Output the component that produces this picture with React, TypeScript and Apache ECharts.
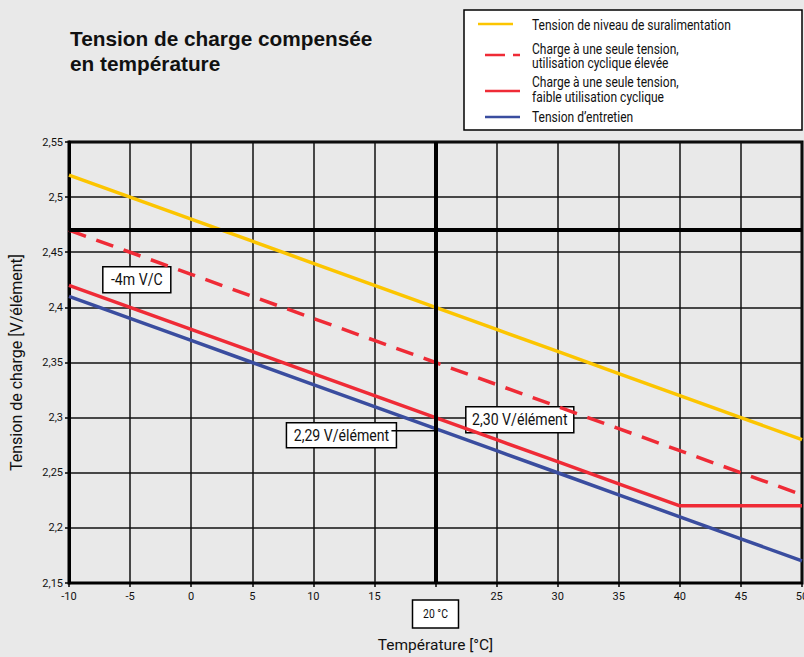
import React, { useEffect, useRef } from "react";
import * as echarts from "echarts";

const temperatures = [-10, -5, 0, 5, 10, 15, 20, 25, 30, 35, 40, 45, 50];
const boostVoltage = [2.52, 2.5, 2.48, 2.46, 2.44, 2.42, 2.4, 2.38, 2.36, 2.34, 2.32, 2.3, 2.28];
const highCycleVoltage = [2.47, 2.45, 2.43, 2.41, 2.39, 2.37, 2.35, 2.33, 2.31, 2.29, 2.27, 2.25, 2.23];
const lowCycleVoltage = [2.42, 2.4, 2.38, 2.36, 2.34, 2.32, 2.3, 2.28, 2.26, 2.24, 2.22, 2.22, 2.22];
const floatVoltage = [2.41, 2.39, 2.37, 2.35, 2.33, 2.31, 2.29, 2.27, 2.25, 2.23, 2.21, 2.19, 2.17];

const seriesNames = [
  "Tension de niveau de suralimentation",
  "Charge à une seule tension,\nutilisation cyclique élevée",
  "Charge à une seule tension,\nfaible utilisation cyclique",
  "Tension d’entretien",
];
const titleText = "Tension de charge compensée\nen température";
const yAxisName = "Tension de charge [V/élément]";
const xAxisName = "Température [°C]";
const referenceTemp = 20;
const referenceVoltage = 2.472;
const annotationTexts = ["-4m V/C", "2,29 V/élément", "2,30 V/élément", "20 °C"];

const NARROW = "Roboto, 'Liberation Sans', sans-serif";
const YELLOW = "#fcc500";
const RED = "#ef2b36";
const BLUE = "#3a4d9f";
const SX = 0.83;

export default function App() {
  const ref = useRef<HTMLDivElement>(null);
  useEffect(() => {
    if (!ref.current) return;
    const chart = echarts.init(ref.current, undefined, { renderer: "svg" });
    const mk = (vals: number[]) => temperatures.map((t, i) => [t, vals[i]]);
    chart.setOption({
      animation: false,
      backgroundColor: "#e9e9e9",
      textStyle: { fontFamily: NARROW },
      grid: {
        left: 69,
        right: 2,
        top: 142,
        bottom: 74,
        show: true,
        borderColor: "#000",
        borderWidth: 3,
        outerBoundsMode: "none",
        containLabel: false,
      },
      xAxis: {
        type: "value",
        min: -10,
        max: 50,
        interval: 5,
        name: xAxisName,
        nameLocation: "middle",
        nameGap: 54,
        nameTextStyle: { fontSize: 15.5, color: "#111", fontFamily: NARROW },
        axisLine: { show: true, onZero: false, lineStyle: { color: "#000", width: 2 } },
        axisTick: { show: true, length: 4, lineStyle: { color: "#000", width: 1.5 } },
        axisLabel: {
          color: "#111",
          fontSize: 11,
          margin: 8,
          fontFamily: NARROW,
          formatter: (v: number) => (v === referenceTemp ? "" : String(v)),
        },
        splitLine: { show: true, lineStyle: { color: "#111", width: 1.5 } },
      },
      yAxis: {
        type: "value",
        min: 2.15,
        max: 2.55,
        interval: 0.05,
        name: yAxisName,
        nameLocation: "middle",
        nameGap: 45,
        nameRotate: 90,
        nameTextStyle: { fontSize: 16, color: "#111", fontFamily: NARROW },
        axisLine: { show: true, onZero: false, lineStyle: { color: "#000", width: 3 } },
        axisTick: { show: true, length: 4, lineStyle: { color: "#000", width: 1.5 } },
        axisLabel: {
          color: "#111",
          fontSize: 11,
          margin: 6,
          fontFamily: NARROW,
          formatter: (v: number) => String(Math.round(v * 100) / 100).replace(".", ","),
        },
        splitLine: { show: true, lineStyle: { color: "#111", width: 1.5 } },
      },
      series: [
        {
          type: "line",
          data: [],
          z: 1,
          markLine: {
            silent: true,
            symbol: ["none", "none"],
            label: { show: false },
            lineStyle: { color: "#000", width: 4, type: "solid" },
            data: [{ yAxis: referenceVoltage }, { xAxis: referenceTemp }],
          },
        },
        {
          name: seriesNames[0],
          type: "line",
          data: mk(boostVoltage),
          symbol: "none",
          z: 3,
          lineStyle: { color: YELLOW, width: 3.5 },
        },
        {
          name: seriesNames[1],
          type: "line",
          data: mk(highCycleVoltage),
          symbol: "none",
          z: 3,
          lineStyle: { color: RED, width: 3.5, type: [18, 11] },
        },
        {
          name: seriesNames[2],
          type: "line",
          data: mk(lowCycleVoltage),
          symbol: "none",
          z: 3,
          lineStyle: { color: RED, width: 3.5 },
        },
        {
          name: seriesNames[3],
          type: "line",
          data: mk(floatVoltage),
          symbol: "none",
          z: 3,
          lineStyle: { color: BLUE, width: 3.5 },
        },
      ],
    });

    const px = (x: number, y: number) => chart.convertToPixel({ gridIndex: 0 }, [x, y]) as number[];
    const box = (cx: number, cy: number, w: number, h: number, text: string, fs: number) => ({
      type: "group",
      z: 10,
      children: [
        {
          type: "rect",
          shape: { x: cx - w / 2, y: cy - h / 2, width: w, height: h },
          style: { fill: "#fff", stroke: "#000", lineWidth: 1.5 },
        },
        {
          type: "text",
          x: cx,
          y: cy,
          scaleX: SX,
          style: { text, fontSize: fs, fontFamily: NARROW, fill: "#111", align: "center", verticalAlign: "middle" },
        },
      ],
    });
    const a1 = px(-4.45, 2.425);
    const a2 = px(12.3, 2.284);
    const a3 = px(26.9, 2.298);
    const conn = px(referenceTemp, 2.288);
    const a4 = px(referenceTemp, 2.15);

    const legendRow = (y: number, x1: number, color: string, dash: any) => ({
      type: "line",
      shape: { x1, y1: y, x2: x1 + 35, y2: y },
      style: { stroke: color, lineWidth: 2.5, lineDash: dash },
    });
    const legendText = (y: number, text: string, lh: number) => ({
      type: "text",
      x: 532,
      y,
      scaleX: SX,
      style: { text, fontSize: 14.5, fontFamily: NARROW, fill: "#111", verticalAlign: "middle", lineHeight: lh },
    });

    chart.setOption({
      graphic: [
        {
          type: "text",
          x: 70,
          y: 26,
          style: {
            text: titleText,
            fontSize: 20.8,
            fontWeight: "bold",
            fontFamily: "'Liberation Sans', Arial, sans-serif",
            fill: "#111",
            lineHeight: 25,
          },
        },
        {
          type: "rect",
          shape: { x: 464, y: 10, width: 338, height: 120 },
          style: { fill: "#fff", stroke: "#000", lineWidth: 1.5 },
        },
        legendRow(24, 478, YELLOW, null),
        legendRow(55, 485, RED, [20, 8]),
        legendRow(91, 485, RED, null),
        legendRow(117, 485, BLUE, null),
        legendText(25, seriesNames[0], 16),
        legendText(56, seriesNames[1], 14.5),
        legendText(90, seriesNames[2], 15),
        legendText(117, seriesNames[3], 16),
        {
          type: "line",
          z: 9,
          shape: { x1: a2[0] + 50, y1: conn[1], x2: conn[0], y2: conn[1] },
          style: { stroke: "#000", lineWidth: 1.5 },
        },
        box(a1[0], a1[1], 68, 26, annotationTexts[0], 17),
        box(a2[0], a2[1], 110, 25, annotationTexts[1], 17),
        box(a3[0], a3[1], 108, 26, annotationTexts[2], 17),
        box(a4[0], a4[1] + 31, 46, 28, annotationTexts[3], 12.5),
      ],
    });
    return () => chart.dispose();
  }, []);
  return (
    <div
      ref={ref}
      style={{ position: "absolute", left: 0, top: 0, width: 804, height: 657, background: "#e9e9e9" }}
    />
  );
}
